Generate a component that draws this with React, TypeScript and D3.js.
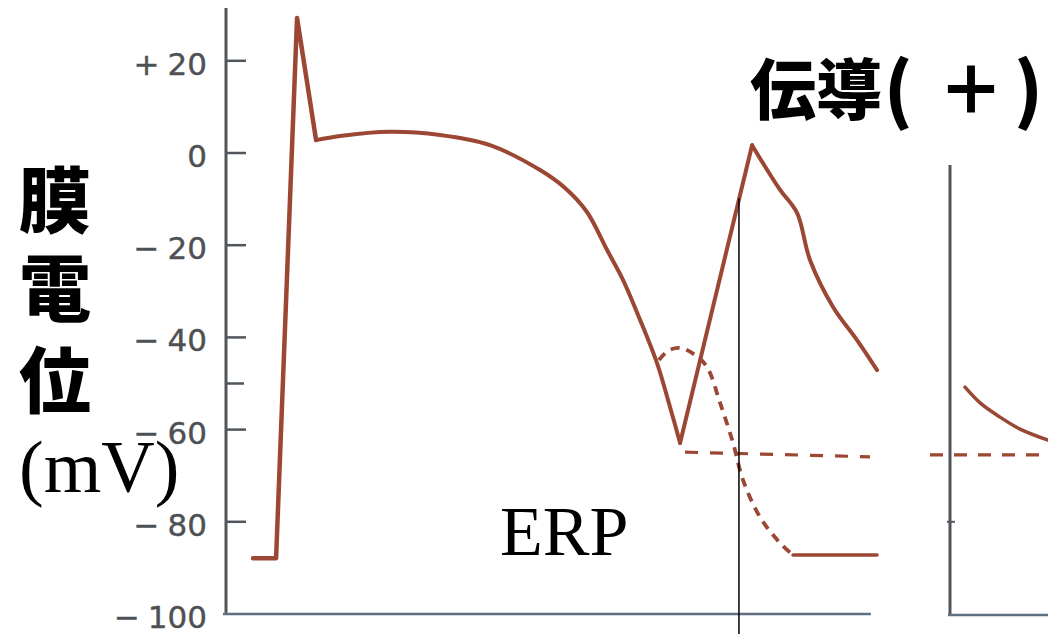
import React from "react";
import * as d3 from "d3";

// Y tick values (mV)
const yTicks = [20, 0, -20, -40, -60, -80, -100];
const yMinorTicks = [-50];

// Main action potential: [time (ms), membrane potential (mV)]
const restAndUpstroke: [number, number][] = [
  [16.9, -87.9], [31.3, -87.9], [44.4, 29.3], [56.3, 2.8],
];
const plateau: [number, number][] = [
  [56.3, 2.8], [71.3, 3.7], [102.5, 4.6], [133.8, 3.9], [165, 1.7],
  [196.3, -3.7], [211.9, -7.6], [225.6, -12.8], [238.1, -21.0],
  [248.1, -27.5], [258.8, -36.2], [269.4, -45.6], [277.5, -55.1], [283.8, -62.9],
];
const prematureUpstroke: [number, number][] = [
  [283.8, -62.9], [328.8, 1.7],
];
const prematureRepol: [number, number][] = [
  [328.8, 1.7], [335.6, -2.2], [346.3, -8.0], [356.9, -13.0],
  [365, -23.2], [379.4, -33.4], [394.4, -40.6], [406.9, -47.1],
];
// Dotted local response
const localResponse: [number, number][] = [
  [270.6, -44.9], [276.3, -42.9], [283.8, -42.3], [293.1, -43.8],
  [300.6, -46.4], [308.8, -54.2], [316.9, -62.9], [323.1, -70.9],
  [333.8, -79.0], [346.3, -84.6], [354.4, -87.2],
];
const restTail: [number, number][] = [[354.4, -87.2], [406.9, -87.2]];
// Threshold dashed line
const threshold: [number, number][] = [[286.9, -64.9], [402.5, -65.9]];
// Second panel
const panel2Curve: [number, number][] = [
  [461.9, -50.8], [471.3, -54.2], [483.8, -57.3], [496.3, -59.9], [513.8, -62.3],
];
const panel2Threshold: [number, number][] = [[440, -65.5], [513.8, -65.5]];
const erpTime = 320.6;
const erpTop = -9.8;
const panel2AxisTime = 452.5;
const panel2Ticks = [-80];

const W = 1048;
const H = 634;
const BROWN = "#9b4734";
const AXIS = "#50565c";
const LABEL = "#4e5154";

export default function App() {
  const x = d3.scaleLinear().domain([0, 400]).range([226, 866]);
  const y = d3.scaleLinear().domain([0, -100]).range([153, 614]);

  const lin = d3.line<[number, number]>().x(d => x(d[0])).y(d => y(d[1]));
  const smooth = d3
    .line<[number, number]>()
    .x(d => x(d[0]))
    .y(d => y(d[1]))
    .curve(d3.curveCatmullRom.alpha(0.5));

  const axisX = x(0);
  const axisBottom = y(-100);

  return (
    <div style={{ position: "absolute", left: 0, top: 0 }}>
      <svg width={W} height={H} style={{ display: "block", background: "#fff" }}>
        {/* Main axes */}
        <line x1={axisX} y1={8} x2={axisX} y2={axisBottom} stroke={AXIS} strokeWidth={3} />
        <line x1={axisX - 3} y1={axisBottom} x2={x(403)} y2={axisBottom} stroke="#5f7080" strokeWidth={2.5} />
        {yTicks.filter(v => v !== -100).map(v => (
          <line key={"t" + v} x1={axisX} x2={axisX + 20} y1={y(v)} y2={y(v)} stroke={AXIS} strokeWidth={2.5} />
        ))}
        {yMinorTicks.map(v => (
          <line key={"m" + v} x1={axisX} x2={axisX + 18} y1={y(v)} y2={y(v)} stroke={AXIS} strokeWidth={2.5} />
        ))}
        {yTicks.map(v => {
          const digits = String(Math.abs(v));
          const sign = v > 0 ? "+" : v < 0 ? "\u2212" : "";
          const dw = digits.length * 19.7;
          return (
            <g key={"l" + v} fontFamily="DejaVu Sans" fontSize={31} fill={LABEL} stroke={LABEL} strokeWidth={0.4}>
              <text x={207} y={y(v) + 3} textAnchor="end" dominantBaseline="central">{digits}</text>
              {sign && (
                <text x={207 - dw - 8} y={y(v) + 3} textAnchor="end" dominantBaseline="central">{sign}</text>
              )}
            </g>
          );
        })}

        {/* Second panel axes */}
        <line x1={x(panel2AxisTime)} y1={165} x2={x(panel2AxisTime)} y2={axisBottom + 1} stroke={AXIS} strokeWidth={3} />
        <line x1={x(panel2AxisTime) - 2} y1={axisBottom + 1} x2={W} y2={axisBottom + 1} stroke="#5f7080" strokeWidth={2.5} />
        {panel2Ticks.map(v => (
          <line key={"p" + v} x1={x(panel2AxisTime) - 3} x2={x(panel2AxisTime) + 5} y1={y(v)} y2={y(v)} stroke={AXIS} strokeWidth={2} />
        ))}

        {/* Traces */}
        <g fill="none" stroke={BROWN} strokeLinejoin="round" strokeLinecap="round">
          <path d={lin(restAndUpstroke) || ""} strokeWidth={4.5} />
          <path d={smooth(plateau) || ""} strokeWidth={4} />
          <path d={lin(prematureUpstroke) || ""} strokeWidth={4} />
          <path d={smooth(prematureRepol) || ""} strokeWidth={4} />
          <path d={smooth(localResponse) || ""} strokeWidth={3.8} strokeDasharray="9 7" strokeLinecap="butt" />
          <path d={lin(restTail) || ""} strokeWidth={3.5} />
          <path d={lin(threshold) || ""} strokeWidth={3.2} strokeDasharray="13 12" strokeLinecap="butt" />
          <path d={smooth(panel2Curve) || ""} strokeWidth={3.5} />
          <path d={lin(panel2Threshold) || ""} strokeWidth={3.2} strokeDasharray="13 11" strokeLinecap="butt" />
        </g>

        {/* ERP marker */}
        <line x1={x(erpTime)} x2={x(erpTime)} y1={y(erpTop)} y2={H} stroke="#000" strokeWidth={1.5} />

        {/* Labels */}
        <g fontFamily="'Noto Sans CJK JP'" fontWeight={900} fontSize={72} fill="#000" textAnchor="middle">
          <text x={55} y={195} dominantBaseline="central">膜</text>
          <text x={55} y={283} dominantBaseline="central">電</text>
          <text x={55} y={375} dominantBaseline="central">位</text>
        </g>
        <text x={19} y={492} fontFamily="'Liberation Serif'" fontSize={74} fill="#000">(mV)</text>
        <text x={500} y={555} fontFamily="'Liberation Serif'" fontSize={70} fill="#000">ERP</text>
        <g fontFamily="'Noto Sans CJK JP'" fontWeight={900} fill="#000">
          <text x={750} y={114} fontSize={66}>伝導</text>
          <text x={884} y={116} fontSize={72}>(</text>
          <text x={971} y={114} fontSize={66} textAnchor="middle">＋</text>
          <text x={1014} y={116} fontSize={72}>)</text>
        </g>
      </svg>
    </div>
  );
}
